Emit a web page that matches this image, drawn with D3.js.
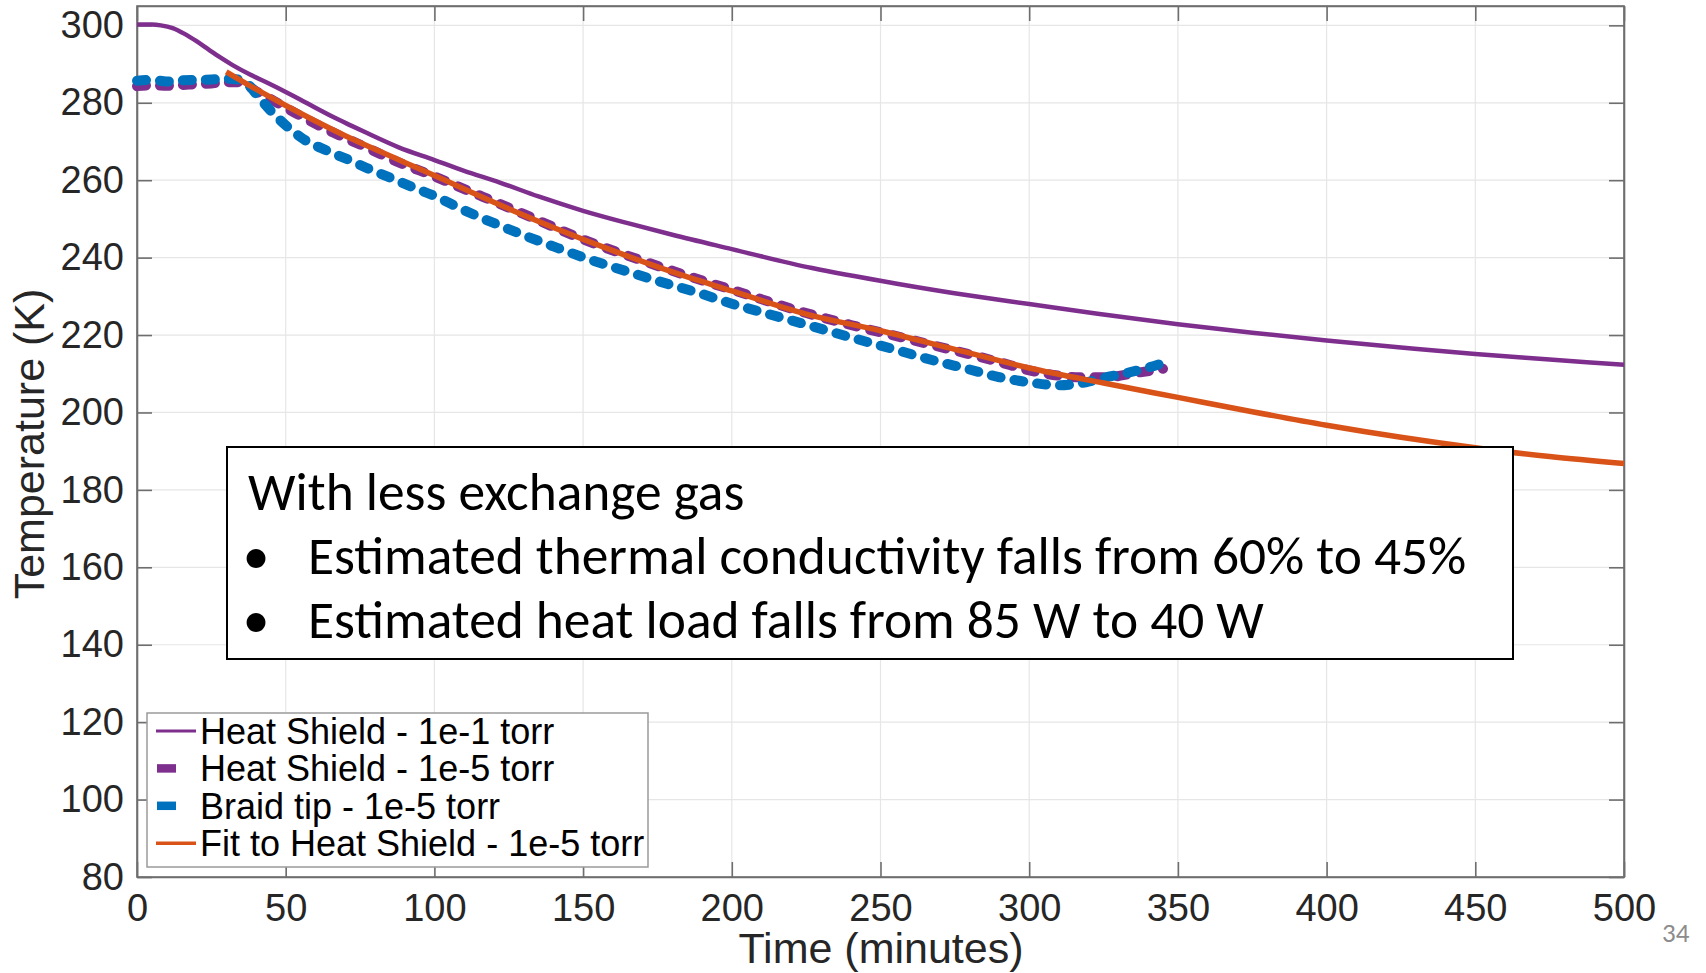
<!DOCTYPE html>
<html>
<head>
<meta charset="utf-8">
<script src="https://cdn.jsdelivr.net/npm/d3@7/dist/d3.min.js"></script>
<style>
  html, body { margin: 0; padding: 0; background: #fff; }
  svg { display: block; }
</style>
</head>
<body>
<svg id="chart" width="1706" height="973"></svg>
<script>
// Heat shield, 1e-1 torr exchange gas (minutes, kelvin)
const hs1Time = [0, 5, 8, 12, 16, 20, 24, 28, 32, 38, 44, 50, 55, 60, 66, 72, 77, 88, 100, 110, 122, 135, 150, 165, 180, 200, 227, 256, 280, 300, 323, 350, 375, 400, 425, 450, 475, 500];
const hs1Temp = [300.2, 300.2, 300.0, 299.3, 297.8, 295.9, 293.8, 291.7, 289.8, 287.3, 285.1, 282.8, 280.8, 278.7, 276.3, 274.1, 272.3, 268.5, 265.2, 262.4, 259.4, 255.8, 252.1, 248.9, 245.9, 242.2, 237.3, 233.2, 230.2, 228.0, 225.5, 222.8, 220.6, 218.6, 216.8, 215.1, 213.7, 212.3];

// Heat shield, 1e-5 torr
const hs5Time = [0, 5, 10, 15, 20, 25, 30, 34, 36, 40, 46, 55, 66, 77, 88, 100, 111, 122, 135, 150, 165, 180, 200, 225, 240, 257, 268, 279, 290, 300, 310, 317, 326, 335, 345];
const hs5Temp = [284.3, 284.5, 284.4, 284.6, 284.8, 285.0, 285.3, 285.3, 285.0, 283.0, 280.5, 276.6, 272.3, 268.5, 264.6, 261.0, 257.4, 253.9, 249.6, 244.7, 240.5, 236.6, 231.7, 225.7, 222.6, 219.4, 217.3, 215.2, 213.0, 210.9, 209.5, 209.1, 209.1, 210.1, 211.3];

// Braid tip, 1e-5 torr
const braidTime = [0, 5, 10, 15, 20, 25, 30, 34, 37, 41, 46, 50, 56, 64, 72, 78, 85, 93, 101, 109, 116, 122, 130, 140, 150, 160, 175, 190, 200, 212, 225, 240, 256, 268, 279, 290, 300, 310, 319, 326, 334, 340, 346];
const braidTemp = [285.7, 285.9, 285.5, 285.8, 285.9, 286.0, 286.2, 286.0, 285.0, 281.4, 277.1, 274.2, 270.6, 267.6, 265.0, 262.9, 260.7, 258.1, 255.6, 252.6, 250.2, 248.3, 245.8, 242.9, 240.1, 237.6, 234.0, 230.6, 228.1, 225.5, 222.7, 219.4, 216.0, 213.4, 211.3, 209.1, 207.8, 207.0, 207.8, 209.1, 210.4, 211.6, 213.0];

// Fit to heat shield, 1e-5 torr
const fitTime = [30, 40, 50, 60, 70, 80, 90, 100, 120, 140, 160, 180, 200, 225, 250, 275, 300, 325, 350, 375, 400, 425, 450, 475, 500];
const fitTemp = [288.0, 283.5, 279.3, 275.3, 271.5, 268.0, 264.6, 261.2, 254.3, 247.8, 241.8, 236.3, 231.4, 225.4, 221.1, 216.3, 211.5, 207.6, 203.9, 200.2, 196.7, 193.6, 190.9, 188.6, 186.8];

const xTicks = [0, 50, 100, 150, 200, 250, 300, 350, 400, 450, 500];
const yTicks = [80, 100, 120, 140, 160, 180, 200, 220, 240, 260, 280, 300];

const legendLabels = [
  "Heat Shield - 1e-1 torr",
  "Heat Shield - 1e-5 torr",
  "Braid tip - 1e-5 torr",
  "Fit to Heat Shield - 1e-5 torr"
];
const noteHeading = "With less exchange gas";
const noteBullets = [
  "Estimated thermal conductivity falls from 60% to 45%",
  "Estimated heat load falls from 85 W to 40 W"
];

const COLORS = { purple: "#7E2F8E", blue: "#0072BD", orange: "#D95319" };

const svg = d3.select("#chart");
svg.append("rect").attr("width", 1706).attr("height", 973).attr("fill", "#fff");

const plot = { left: 137, right: 1624, top: 6, bottom: 877 };
const x = d3.scaleLinear().domain([0, 500]).range([plot.left, plot.right]);
const y = d3.scaleLinear().domain([80, 305]).range([plot.bottom, plot.top]);

const tickFont = "'Liberation Sans', Arial, Helvetica, sans-serif";

// grid
const grid = svg.append("g");
grid.selectAll("line.vx").data(xTicks.slice(1, -1)).join("line")
  .attr("x1", d => x(d)).attr("x2", d => x(d))
  .attr("y1", plot.top).attr("y2", plot.bottom)
  .attr("stroke", "#e6e6e6").attr("stroke-width", 1.2);
grid.selectAll("line.hy").data(yTicks.slice(1)).join("line")
  .attr("x1", plot.left).attr("x2", plot.right)
  .attr("y1", d => y(d)).attr("y2", d => y(d))
  .attr("stroke", "#e6e6e6").attr("stroke-width", 1.2);

// axes (ticks pointing inward on all four sides)
const tickLen = 15;
const xAxisB = d3.axisBottom(x).tickValues(xTicks).tickSizeInner(-tickLen).tickSizeOuter(0).tickPadding(17);
const xAxisT = d3.axisTop(x).tickValues(xTicks).tickSizeInner(-tickLen).tickSizeOuter(0).tickFormat("");
const yAxisL = d3.axisLeft(y).tickValues(yTicks).tickSizeInner(-tickLen).tickSizeOuter(0).tickPadding(13);
const yAxisR = d3.axisRight(y).tickValues(yTicks).tickSizeInner(-tickLen).tickSizeOuter(0).tickFormat("");

function styleAxis(g) {
  g.select(".domain").attr("stroke", "#6e6e6e").attr("stroke-width", 1.6);
  g.selectAll(".tick line").attr("stroke", "#6e6e6e").attr("stroke-width", 1.6);
  g.selectAll(".tick text").attr("fill", "#262626").attr("font-family", tickFont).attr("font-size", 38);
}
svg.append("g").attr("transform", `translate(0,${plot.bottom})`).call(xAxisB).call(styleAxis);
svg.append("g").attr("transform", `translate(0,${plot.top})`).call(xAxisT).call(styleAxis);
svg.append("g").attr("transform", `translate(${plot.left},0)`).call(yAxisL).call(styleAxis);
svg.append("g").attr("transform", `translate(${plot.right},0)`).call(yAxisR).call(styleAxis);

// full frame edges
svg.append("rect")
  .attr("x", plot.left).attr("y", plot.top)
  .attr("width", plot.right - plot.left).attr("height", plot.bottom - plot.top)
  .attr("fill", "none").attr("stroke", "#6e6e6e").attr("stroke-width", 1.6);

// axis titles
svg.append("text")
  .attr("x", 881).attr("y", 963)
  .attr("text-anchor", "middle")
  .attr("font-family", tickFont).attr("font-size", 43).attr("fill", "#262626")
  .text("Time (minutes)");
svg.append("text")
  .attr("transform", "translate(44,444) rotate(-90)")
  .attr("text-anchor", "middle")
  .attr("font-family", tickFont).attr("font-size", 43).attr("fill", "#262626")
  .text("Temperature (K)");

// series
const line = d3.line().x(d => x(d[0])).y(d => y(d[1])).curve(d3.curveMonotoneX);
const zip = (a, b) => a.map((t, i) => [t, b[i]]);

const series = [
  { pts: zip(hs1Time, hs1Temp), color: COLORS.purple, width: 4.5, dash: null },
  { pts: zip(hs5Time, hs5Temp), color: COLORS.purple, width: 10, dash: "9 14" },
  { pts: zip(braidTime, braidTemp), color: COLORS.blue, width: 10, dash: "9 14" },
  { pts: zip(fitTime, fitTemp), color: COLORS.orange, width: 5.5, dash: null }
];

svg.append("g").selectAll("path").data(series).join("path")
  .attr("d", d => line(d.pts))
  .attr("fill", "none")
  .attr("stroke", d => d.color)
  .attr("stroke-width", d => d.width)
  .attr("stroke-dasharray", d => d.dash)
  .attr("stroke-linecap", d => d.dash ? "round" : "butt")
  .attr("stroke-linejoin", "round");

// legend
const leg = svg.append("g");
leg.append("rect")
  .attr("x", 147).attr("y", 713).attr("width", 501).attr("height", 154)
  .attr("fill", "#fff").attr("stroke", "#9a9a9a").attr("stroke-width", 1.5);
const rowY = i => 731 + i * 37.4;
series.forEach((s, i) => {
  if (s.dash) {
    leg.append("line")
      .attr("x1", 157).attr("x2", 176).attr("y1", rowY(i)).attr("y2", rowY(i))
      .attr("stroke", s.color).attr("stroke-width", 8.5);
  } else {
    leg.append("line")
      .attr("x1", 156).attr("x2", 196).attr("y1", rowY(i)).attr("y2", rowY(i))
      .attr("stroke", s.color).attr("stroke-width", s === series[0] ? 3 : 3.5);
  }
  leg.append("text")
    .attr("x", 200).attr("y", rowY(i) + 13)
    .attr("font-family", tickFont).attr("font-size", 36).attr("fill", "#000")
    .text(legendLabels[i]);
});

// annotation box
const noteFont = "Carlito, Lato, 'Open Sans', sans-serif";
const noteSize = 53.4;
const note = svg.append("g");
note.append("rect")
  .attr("x", 227).attr("y", 447).attr("width", 1286).attr("height", 212)
  .attr("fill", "#fff").attr("stroke", "#000").attr("stroke-width", 2);
note.append("text")
  .attr("x", 248).attr("y", 510)
  .attr("font-family", noteFont).attr("font-size", noteSize).attr("fill", "#000")
  .text(noteHeading);
noteBullets.forEach((b, i) => {
  const by = 574 + i * 64;
  note.append("text")
    .attr("x", 256).attr("y", by)
    .attr("text-anchor", "middle")
    .attr("font-family", noteFont).attr("font-size", noteSize).attr("fill", "#000")
    .text("•");
  note.append("text")
    .attr("x", 308).attr("y", by)
    .attr("font-family", noteFont).attr("font-size", noteSize).attr("fill", "#000")
    .text(b);
});

// slide number
svg.append("text")
  .attr("x", 1662).attr("y", 942)
  .attr("font-family", noteFont).attr("font-size", 27).attr("fill", "#8c8c8c")
  .text("34");
</script>
</body>
</html>
